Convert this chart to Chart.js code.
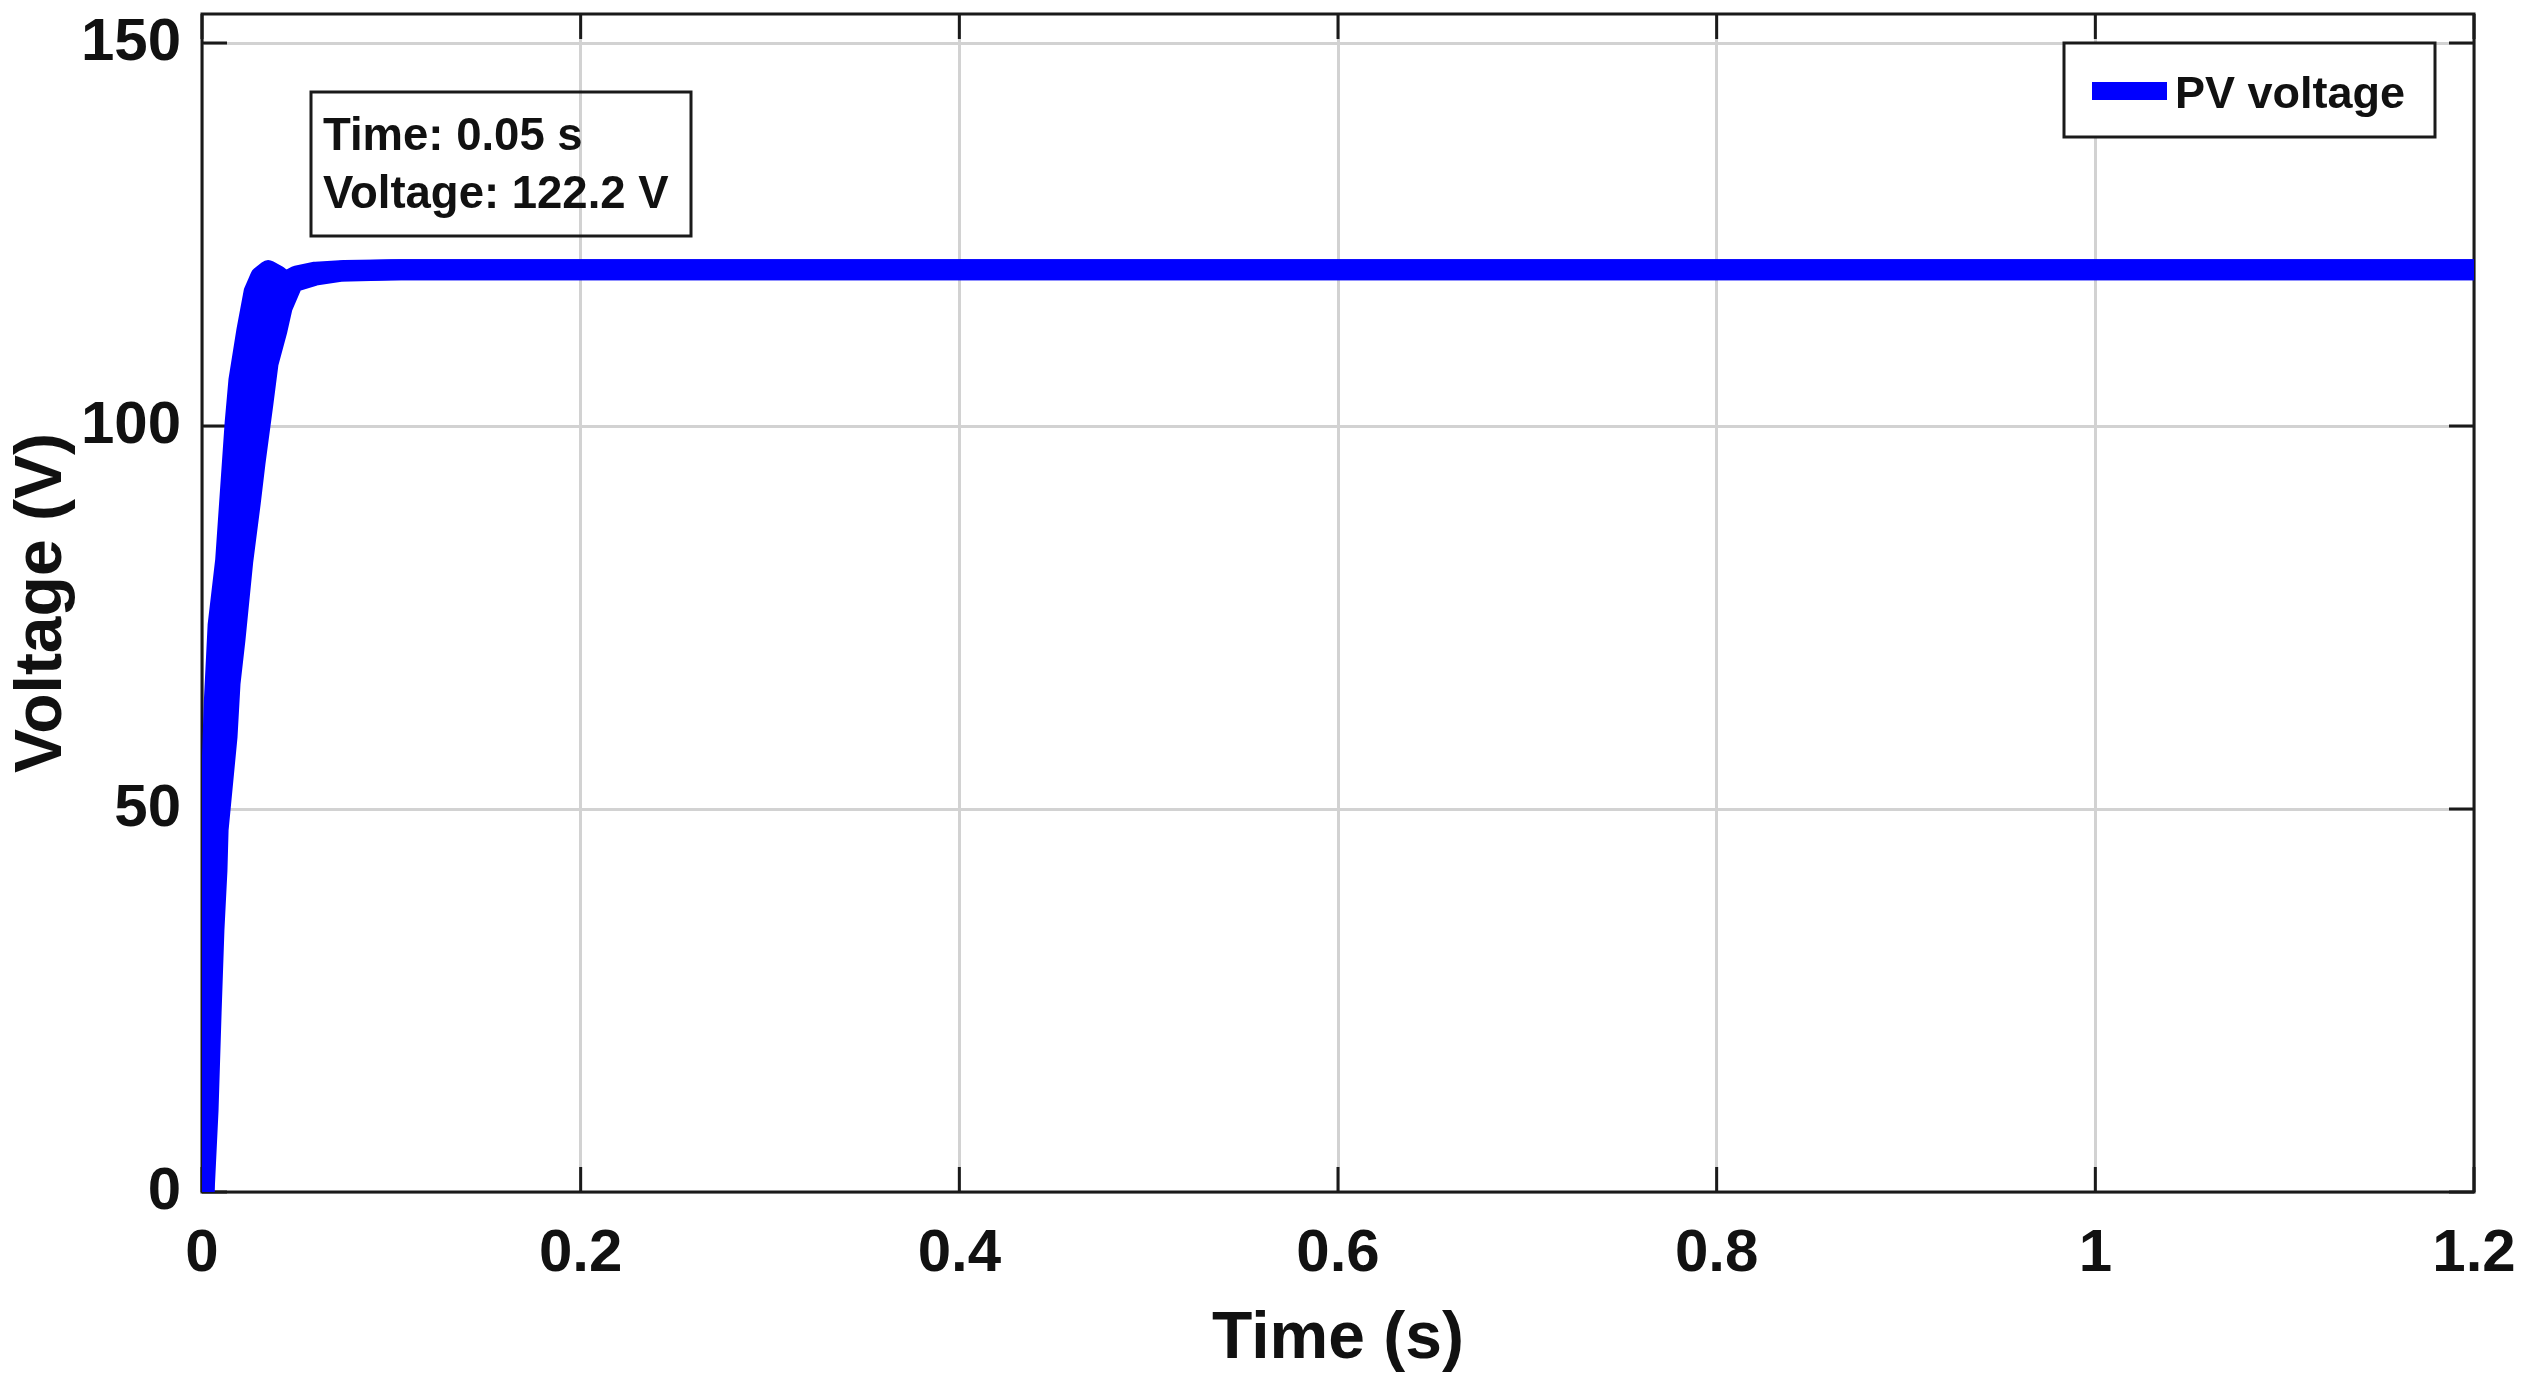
<!DOCTYPE html>
<html>
<head>
<meta charset="utf-8">
<script src="https://cdn.jsdelivr.net/npm/chart.js@4.4.1/dist/chart.umd.min.js"></script>
<style>
    html, body { margin: 0; padding: 0; background: #fff; }
    #wrap { width: 2530px; height: 1383px; position: relative; }
</style>
</head>
<body>
<div id="wrap"><canvas id="pvChart"></canvas></div>
<script>
// upper edge of the ripple band (time in s, voltage in V)
const upperTime = [0.001, 0.002, 0.0035, 0.0065, 0.0085, 0.0125, 0.0175, 0.0195, 0.0237, 0.0275, 0.031, 0.035, 0.040, 0.044, 0.050, 0.060, 0.075, 0.10, 1.2];
const upperVolt = [0, 25, 42, 64, 74, 82.5, 100.4, 106, 112.5, 117.5, 119.5, 120.3, 119.6, 118.8, 119.6, 120.1, 120.3, 120.4, 120.4];

// lower edge of the ripple band
const lowerTime = [0.0011, 0.0032, 0.0048, 0.0063, 0.0079, 0.0085, 0.0132, 0.0148, 0.0174, 0.0215, 0.0255, 0.028, 0.0322, 0.0349, 0.0396, 0.0423, 0.048, 0.0597, 0.0729, 0.105, 1.2];
const lowerVolt = [0, 10.7, 23.4, 34.2, 42, 47.3, 59.4, 66.4, 72.1, 82.3, 90, 95.2, 103, 108.2, 112.5, 115.5, 118.8, 119.7, 120.2, 120.4, 120.4];

const xTicks = [0, 0.2, 0.4, 0.6, 0.8, 1, 1.2];
const xTickLabels = ["0", "0.2", "0.4", "0.6", "0.8", "1", "1.2"];
const yTicks = [0, 50, 100, 150];
const yTickLabels = ["0", "50", "100", "150"];

const seriesName = "PV voltage";
const tipLines = ["Time: 0.05 s", "Voltage: 122.2 V"];

const FONT = "'Liberation Sans', Arial, Helvetica, sans-serif";
const BLUE = "#0000ff";
const TICK_LEN = 25;

const toPoints = (ts, vs) => ts.map((t, i) => ({ x: t, y: vs[i] }));

// drop the label overhang padding so the plot box sits where we want it
const noPad = s => { s.paddingTop = 0; s.paddingBottom = 0; s.paddingLeft = 0; s.paddingRight = 0; };

// box, inward ticks on all four sides (matlab style)
const axesBox = {
    id: "axesBox",
    beforeDatasetsDraw(chart) {
        const { ctx, chartArea: a, scales } = chart;
        ctx.save();
        ctx.strokeStyle = "#1a1a1a";
        ctx.lineWidth = 3;
        ctx.strokeRect(a.left, a.top, a.right - a.left, a.bottom - a.top);
        ctx.beginPath();
        xTicks.forEach(v => {
            const px = scales.x.getPixelForValue(v);
            ctx.moveTo(px, a.bottom); ctx.lineTo(px, a.bottom - TICK_LEN);
            ctx.moveTo(px, a.top); ctx.lineTo(px, a.top + TICK_LEN);
        });
        yTicks.forEach(v => {
            const py = scales.y.getPixelForValue(v);
            ctx.moveTo(a.left, py); ctx.lineTo(a.left + TICK_LEN, py);
            ctx.moveTo(a.right, py); ctx.lineTo(a.right - TICK_LEN, py);
        });
        ctx.stroke();
        ctx.restore();
    }
};

// data tip box + legend box
const overlays = {
    id: "overlays",
    afterDatasetsDraw(chart) {
        const { ctx, chartArea: a } = chart;
        ctx.save();

        // data tip (no fill, grid shows through)
        ctx.strokeStyle = "#1a1a1a";
        ctx.lineWidth = 3;
        ctx.strokeRect(a.left + 109, a.top + 78, 380, 144);
        ctx.fillStyle = "#111";
        ctx.font = "bold 45.5px " + FONT;
        ctx.textBaseline = "alphabetic";
        ctx.textAlign = "left";
        tipLines.forEach((s, i) => ctx.fillText(s, a.left + 121, a.top + 136 + i * 58));

        // legend
        const ds = chart.data.datasets[0];
        const lx = a.right - 410, ly = a.top + 29;
        ctx.fillStyle = "#fff";
        ctx.fillRect(lx, ly, 371, 94);
        ctx.strokeRect(lx, ly, 371, 94);
        ctx.strokeStyle = ds.borderColor;
        ctx.lineWidth = 18;
        ctx.beginPath();
        ctx.moveTo(lx + 28, ly + 48);
        ctx.lineTo(lx + 103, ly + 48);
        ctx.stroke();
        ctx.fillStyle = "#111";
        ctx.font = "bold 45px " + FONT;
        ctx.fillText(ds.label, lx + 111, ly + 65);
        ctx.restore();
    }
};

new Chart(document.getElementById("pvChart"), {
    type: "line",
    data: {
        datasets: [{
            label: seriesName,
            data: toPoints(upperTime, upperVolt),
            borderColor: BLUE,
            backgroundColor: BLUE,
            borderWidth: 21,
            borderJoinStyle: "round",
            pointRadius: 0,
            fill: false,
            clip: 0
        }, {
            label: seriesName + " (ripple)",
            data: toPoints(lowerTime, lowerVolt),
            borderColor: BLUE,
            backgroundColor: BLUE,
            borderWidth: 21,
            borderJoinStyle: "round",
            pointRadius: 0,
            fill: "-1",
            clip: 0
        }]
    },
    options: {
        responsive: true,
        maintainAspectRatio: false,
        animation: false,
        events: [],
        layout: { padding: { top: 14, right: 56, left: 0, bottom: 0 } },
        plugins: {
            legend: { display: false },
            tooltip: { enabled: false }
        },
        scales: {
            x: {
                type: "linear",
                min: 0,
                max: 1.2,
                afterBuildTicks: s => { s.ticks = xTicks.map(v => ({ value: v })); },
                afterFit: s => { s.height = 191; noPad(s); },
                grid: { color: "#d2d2d2", lineWidth: 3, drawTicks: false },
                border: { display: false },
                ticks: {
                    color: "#111",
                    font: { family: FONT, size: 60, weight: "bold" },
                    padding: 26,
                    maxRotation: 0,
                    callback: (v, i) => xTickLabels[i]
                },
                title: {
                    display: true,
                    text: "Time (s)",
                    color: "#111",
                    font: { family: FONT, size: 66, weight: "bold" },
                    padding: { top: 8 }
                }
            },
            y: {
                min: 0,
                max: 153.8,
                afterBuildTicks: s => { s.ticks = yTicks.map(v => ({ value: v })); },
                afterFit: s => { s.width = 202; noPad(s); },
                grid: { color: "#d2d2d2", lineWidth: 3, drawTicks: false },
                border: { display: false },
                ticks: {
                    color: "#111",
                    font: { family: FONT, size: 60, weight: "bold" },
                    padding: 21,
                    callback: (v, i) => yTickLabels[i]
                },
                title: {
                    display: true,
                    text: "Voltage (V)",
                    color: "#111",
                    font: { family: FONT, size: 66, weight: "bold" },
                    padding: { top: 3 }
                }
            }
        }
    },
    plugins: [axesBox, overlays]
});
</script>
</body>
</html>
